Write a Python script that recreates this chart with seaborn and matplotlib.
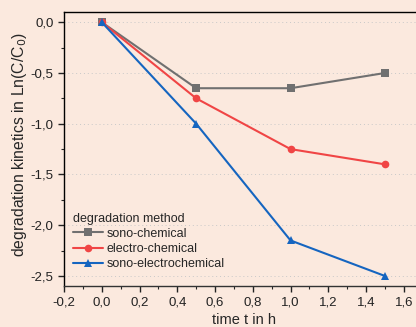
import matplotlib
matplotlib.use("Agg")
import matplotlib.pyplot as plt
import pandas as pd
import seaborn as sns
from matplotlib.ticker import MultipleLocator, FuncFormatter

# data
time_h = [0.0, 0.5, 1.0, 1.5]
sono_chemical = [0.0, -0.65, -0.65, -0.50]
electro_chemical = [0.0, -0.75, -1.25, -1.40]
sono_electrochemical = [0.0, -1.00, -2.15, -2.50]
methods = ["sono-chemical", "electro-chemical", "sono-electrochemical"]
colors = ["#707070", "#F04545", "#1565C0"]
markers = ["s", "o", "^"]

rows = []
for name, vals in zip(methods, [sono_chemical, electro_chemical, sono_electrochemical]):
    for t, v in zip(time_h, vals):
        rows.append({"time": t, "value": v, "method": name})
df = pd.DataFrame(rows)

sns.set_style("ticks")
plt.rcParams["font.family"] = ["Liberation Sans", "DejaVu Sans"]
bg = "#FBE9DE"

fig = plt.figure(figsize=(4.16, 3.27), dpi=100, facecolor=bg)
ax = fig.add_axes([0.154, 0.125, 0.862, 0.838])
ax.set_facecolor(bg)

sns.lineplot(
    data=df, x="time", y="value", hue="method", style="method",
    hue_order=methods, style_order=methods,
    palette=colors, markers=dict(zip(methods, markers)), dashes=False,
    markersize=5.5, markeredgewidth=0, linewidth=1.5, ax=ax,
)

ax.set_xlim(-0.2, 1.7)
ax.set_ylim(-2.6, 0.1)
ax.xaxis.set_major_locator(MultipleLocator(0.2))
ax.xaxis.set_minor_locator(MultipleLocator(0.1))
ax.yaxis.set_major_locator(MultipleLocator(0.5))
ax.yaxis.set_minor_locator(MultipleLocator(0.25))
comma = FuncFormatter(lambda v, p: f"{v:.1f}".replace(".", ",").replace("-0,0", "0,0"))
ax.xaxis.set_major_formatter(comma)
ax.yaxis.set_major_formatter(comma)
ax.tick_params(which="major", direction="out", length=4, width=1, labelsize=9.5, colors="#222222")
ax.tick_params(which="minor", direction="out", length=2, width=0.8)
for y in [0.0, -0.5, -1.0, -1.5, -2.0, -2.5]:
    ax.axhline(y, color="#C8C8C8", linestyle=(0, (1, 3)), linewidth=0.7, zorder=0)

for s in ["top", "left"]:
    ax.spines[s].set_color("black")
    ax.spines[s].set_linewidth(1.0)
ax.spines["bottom"].set_color("#333333")
ax.spines["bottom"].set_linewidth(1.0)
ax.spines["right"].set_visible(False)

ax.set_xlabel("time t in h", fontsize=10.5)
ax.set_ylabel("degradation kinetics in Ln(C/C$_0$)", fontsize=11.3)
ax.xaxis.set_label_coords(0.502, -0.097)
ax.yaxis.set_label_coords(-0.098, 0.518)

leg = ax.legend(
    title="degradation method", loc="upper left", bbox_to_anchor=(0.0, 0.30),
    frameon=False, fontsize=9, title_fontsize=9, handlelength=2.4,
    handletextpad=0.3, labelspacing=0.25, borderaxespad=0.3,
)
leg._legend_box.align = "left"

fig.savefig("out.png", dpi=100, facecolor=bg)
